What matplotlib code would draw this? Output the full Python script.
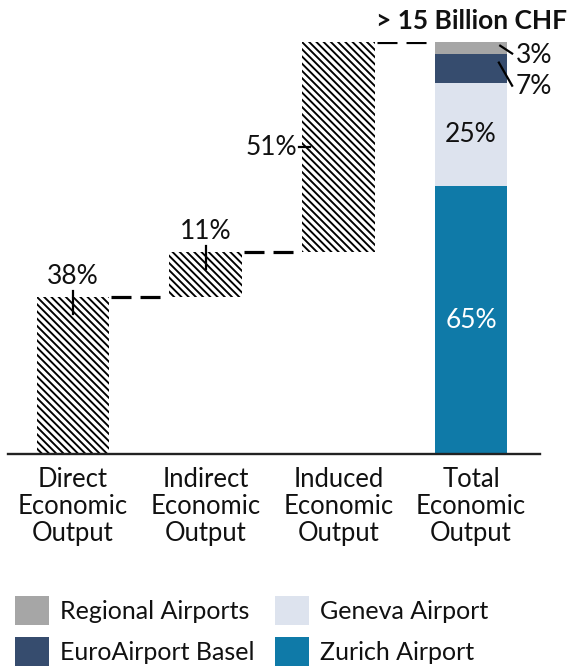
import matplotlib
matplotlib.use("Agg")
import matplotlib.pyplot as plt
from matplotlib.patches import Rectangle

DPI = 130
K = 100 / DPI  # convert "points at dpi 100" to points at this dpi


def pt(x):
    return x * K


plt.rcParams['font.family'] = ['Lato', 'DejaVu Sans']
plt.rcParams['hatch.linewidth'] = 1.05
plt.rcParams['lines.scale_dashes'] = False

categories = ["Direct\nEconomic\nOutput", "Indirect\nEconomic\nOutput",
              "Induced\nEconomic\nOutput", "Total\nEconomic\nOutput"]
step_values = [38, 11, 51]
step_labels = ["38%", "11%", "51%"]
airports = ["Zurich Airport", "Geneva Airport", "EuroAirport Basel", "Regional Airports"]
airport_shares = [65, 25, 7, 3]
airport_colors = ["#0F7AA8", "#DDE3EE", "#364C6E", "#A6A6A6"]
total_label = "> 15 Billion CHF"

W, H = 572, 667
fig = plt.figure(figsize=(W / DPI, H / DPI), dpi=DPI)
ax = fig.add_axes([8 / W, (H - 454) / H, 532 / W, 412 / H])
ax.set_xlim(-0.49, 3.52)
ax.set_ylim(0, 100)
ax.axis('off')
ax.plot([-0.49, 3.52], [0, 0], color='#222222', lw=pt(1.7), clip_on=False, zorder=5)

bw = 0.55
bottoms = []
b = 0
for i, v in enumerate(step_values):
    ax.bar(i, v, bottom=b, width=bw, color='white', edgecolor='black',
           hatch='\\' * 6, linewidth=0)
    bottoms.append(b)
    b += v
total = b

# stacked total bar
b = 0
for v, c in zip(airport_shares, airport_colors):
    ax.bar(3, v, bottom=b, width=bw, color=c, linewidth=0)
    b += v

# dashed connectors
tops = [bottoms[i] + step_values[i] for i in range(3)]
for i, t in enumerate(tops):
    ax.plot([i + bw / 2 + 0.015, i + 1 - bw / 2 - 0.06], [t, t], color='black',
            lw=pt(2.3), dashes=(pt(14.4), pt(6.5)), solid_capstyle='butt', dash_capstyle='butt')

FS = pt(19)
TXT = '#111111'
# step labels with ticks
for i in range(2):
    t = tops[i]
    ax.plot([i, i], [t - 4, t + 1.5], color='black', lw=pt(1.6))
    ax.text(i, t + 2.0, step_labels[i], ha='center', va='bottom', fontsize=FS, color=TXT)
mid = bottoms[2] + step_values[2] / 2
ax.plot([2 - bw / 2 - 0.025, 2 - bw / 2 + 0.065], [mid, mid], color='black', lw=pt(1.6))
ax.text(2 - bw / 2 - 0.035, mid, step_labels[2], ha='right', va='center', fontsize=FS, color=TXT)

# total bar labels
ax.text(3, 100 + 5.1, total_label, ha='center', va='center', fontsize=pt(19),
        fontweight='bold', color=TXT, clip_on=False)
cum = 0
centers = []
for v in airport_shares:
    centers.append(cum + v / 2)
    cum += v
ax.text(3, centers[0], "65%", ha='center', va='center', fontsize=FS, color='white')
ax.text(3, centers[1], "25%", ha='center', va='center', fontsize=FS, color=TXT)
# small segment labels with leaders
ax.plot([3 + 0.22, 3 + 0.31], [centers[3] + 0.6, centers[3] - 1.3], color='black', lw=pt(1.6), clip_on=False)
ax.text(3 + 0.34, centers[3] - 1.8, "3%", ha='left', va='center', fontsize=FS, color=TXT, clip_on=False)
ax.plot([3 + 0.21, 3 + 0.31], [95.0, 89.4], color='black', lw=pt(1.6), clip_on=False)
ax.text(3 + 0.34, 89.2, "7%", ha='left', va='center', fontsize=FS, color=TXT, clip_on=False)

# category labels
for i, c in enumerate(categories):
    ax.text(i, -3.2, c, ha='center', va='top', fontsize=pt(18.5), linespacing=1.1,
            color=TXT, clip_on=False)

# legend (manual)
legend_items = [("Regional Airports", "#A6A6A6", 15, 596),
                ("Geneva Airport", "#DDE3EE", 275, 596),
                ("EuroAirport Basel", "#364C6E", 15, 637),
                ("Zurich Airport", "#0F7AA8", 275, 637)]
for name, col, x0, y0 in legend_items:
    fig.add_artist(Rectangle((x0 / W, 1 - (y0 + 29) / H), 34 / W, 29 / H,
                             transform=fig.transFigure, color=col, lw=0))
    fig.text((x0 + 45) / W, 1 - (y0 + 15.5) / H, name, ha='left', va='center',
             fontsize=pt(18), color=TXT)

fig.savefig("out.png", dpi=DPI)
